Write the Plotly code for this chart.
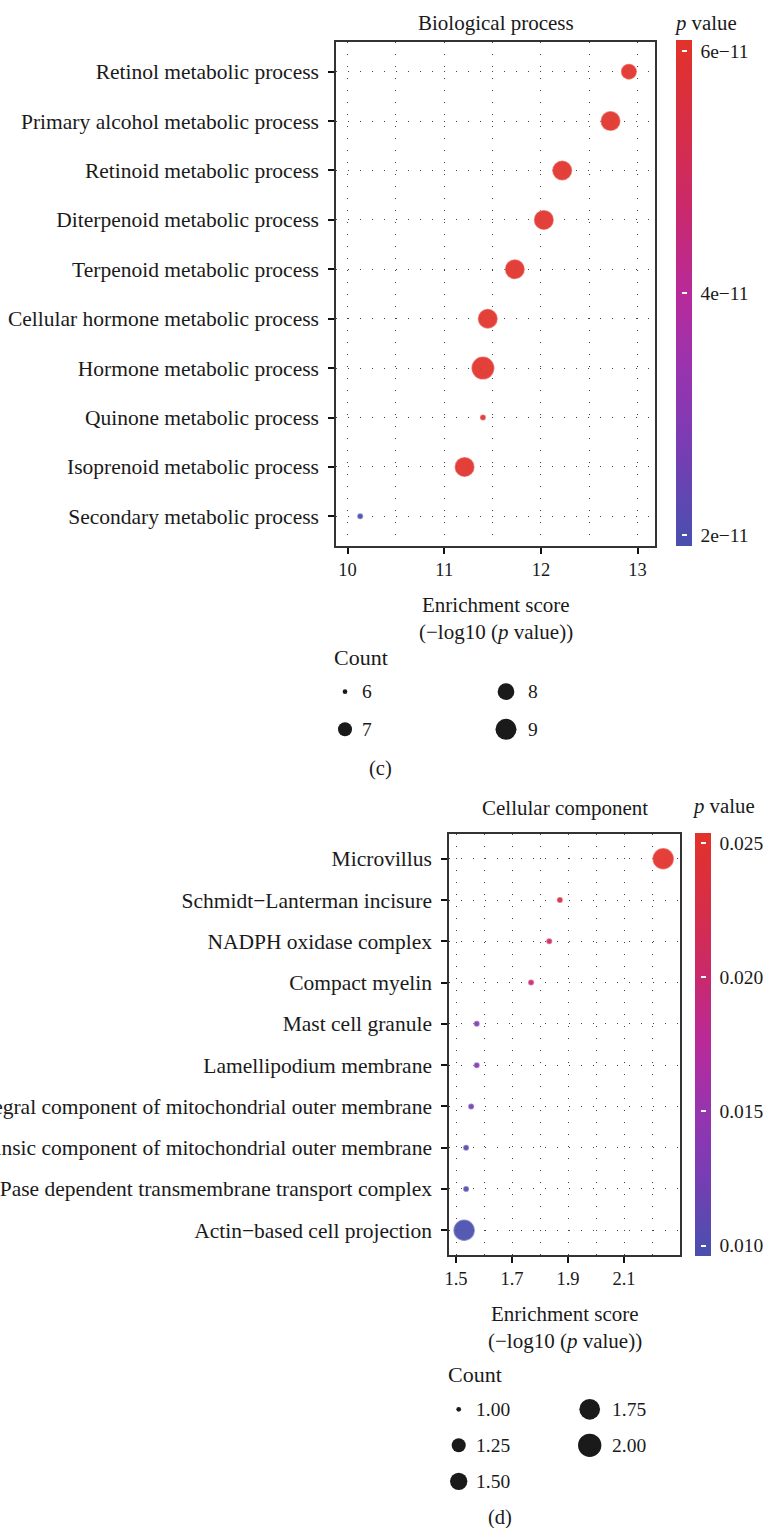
import plotly.graph_objects as go

# ---------------- data ----------------
bp_terms = [
    "Retinol metabolic process",
    "Primary alcohol metabolic process",
    "Retinoid metabolic process",
    "Diterpenoid metabolic process",
    "Terpenoid metabolic process",
    "Cellular hormone metabolic process",
    "Hormone metabolic process",
    "Quinone metabolic process",
    "Isoprenoid metabolic process",
    "Secondary metabolic process",
]
bp_score = [12.91, 12.72, 12.22, 12.03, 11.73, 11.45, 11.40, 11.40, 11.21, 10.13]
bp_count = [7, 8, 8, 8, 8, 8, 9, 6, 8, 6]
bp_pvalue = [6.05e-11, 6.05e-11, 6.05e-11, 6.05e-11, 6.05e-11,
             6.05e-11, 6.05e-11, 6.05e-11, 6.05e-11, 1.95e-11]
bp_xticks = [10, 11, 12, 13]
bp_cticks = [2e-11, 4e-11, 6e-11]
bp_cticktext = ["2e\u221211", "4e\u221211", "6e\u221211"]
bp_legend_counts = [6, 7, 8, 9]

cc_terms = [
    "Microvillus",
    "Schmidt\u2212Lanterman incisure",
    "NADPH oxidase complex",
    "Compact myelin",
    "Mast cell granule",
    "Lamellipodium membrane",
    "Integral component of mitochondrial outer membrane",
    "Intrinsic component of mitochondrial outer membrane",
    "ATPase dependent transmembrane transport complex",
    "Actin\u2212based cell projection",
]
cc_score = [2.240, 1.871, 1.833, 1.768, 1.574, 1.574, 1.554, 1.536, 1.536, 1.529]
cc_count = [2, 1, 1, 1, 1, 1, 1, 1, 1, 2]
cc_pvalue = [0.0253, 0.0225, 0.0212, 0.0200, 0.0135, 0.0135, 0.0122, 0.0106, 0.0103, 0.0097]
cc_xticks = [1.5, 1.7, 1.9, 2.1]
cc_cticks = [0.010, 0.015, 0.020, 0.025]
cc_cticktext = ["0.010", "0.015", "0.020", "0.025"]
cc_legend_counts = [1.00, 1.25, 1.50, 1.75, 2.00]
cc_legend_text = ["1.00", "1.25", "1.50", "1.75", "2.00"]

# ---------------- styles ----------------
W, H = 769, 1528
FONT = "Liberation Serif"
TXT = "#1a1a1a"
SCALE = [[0.0, "#4850AE"], [0.2, "#7A3CB4"], [0.35, "#9834AE"], [0.5, "#B82A9A"],
         [0.65, "#C8296F"], [0.8, "#D52D4C"], [1.0, "#E2322A"]]
CLEAR = [[0, "rgba(0,0,0,0)"], [1, "rgba(0,0,0,0)"]]
GRID_DASH = "1px,11px"

bp_size = {6: 6, 7: 16, 8: 20, 9: 23}
bp_leg_size = {6: 4.7, 7: 14, 8: 16.7, 9: 21}
cc_size = {1: 6, 2: 21.5}
cc_leg_size = [4.7, 14, 17.3, 20.7, 23.3]

LABEL_SIZE = 21.5
TITLE_SIZE = 21
TICK_SIZE = 18.5
PAD = -4  # annotation inner padding compensation


def fx(p):
    return p / W


def fy(p):
    return 1 - p / H


fig = go.Figure()

rim = dict(width=1.5, color="rgba(255,255,255,0.35)")

fig.add_trace(go.Scatter(
    x=bp_score, y=bp_terms, mode="markers", xaxis="x", yaxis="y", showlegend=False,
    marker=dict(size=[bp_size[c] for c in bp_count], color=bp_pvalue,
                coloraxis="coloraxis", opacity=0.93, line=rim)))
fig.add_trace(go.Scatter(
    x=cc_score, y=cc_terms, mode="markers", xaxis="x2", yaxis="y2", showlegend=False,
    marker=dict(size=[cc_size[c] for c in cc_count], color=cc_pvalue,
                coloraxis="coloraxis2", opacity=0.93, line=rim)))
# ghost traces: carry the white tick marks drawn inside each colour bar
for ca in ["coloraxis3", "coloraxis5"]:
    fig.add_trace(go.Scatter(
        x=bp_score, y=bp_terms, mode="markers", xaxis="x", yaxis="y", showlegend=False,
        hoverinfo="skip", marker=dict(color=bp_pvalue, coloraxis=ca, opacity=0)))
for ca in ["coloraxis4", "coloraxis6"]:
    fig.add_trace(go.Scatter(
        x=cc_score, y=cc_terms, mode="markers", xaxis="x2", yaxis="y2", showlegend=False,
        hoverinfo="skip", marker=dict(color=cc_pvalue, coloraxis=ca, opacity=0)))

# legend keys (pixel-space helper axes)
bp_leg_sym_x = [345, 506]
bp_leg_txt_x = [364, 530]
bp_leg_y0, bp_leg_dy, bp_nrow = 691.7, 37.6, 2
cc_leg_sym_x = [458.7, 589.7]
cc_leg_txt_x = [478, 614]
cc_leg_y0, cc_leg_dy, cc_nrow = 1409.3, 36.0, 3

lx, ly, ls = [], [], []
annotations = []
for i, c in enumerate(bp_legend_counts):
    col, row = i // bp_nrow, i % bp_nrow
    lx.append(bp_leg_sym_x[col]); ly.append(bp_leg_y0 + row * bp_leg_dy); ls.append(bp_leg_size[c])
    annotations.append(dict(text=str(c), x=fx(bp_leg_txt_x[col]), y=fy(bp_leg_y0 + row * bp_leg_dy),
                            xanchor="left", yanchor="middle", xshift=PAD, font=dict(size=19.5)))
for i, c in enumerate(cc_legend_counts):
    col, row = i // cc_nrow, i % cc_nrow
    lx.append(cc_leg_sym_x[col]); ly.append(cc_leg_y0 + row * cc_leg_dy); ls.append(cc_leg_size[i])
    annotations.append(dict(text=cc_legend_text[i], x=fx(cc_leg_txt_x[col]), y=fy(cc_leg_y0 + row * cc_leg_dy),
                            xanchor="left", yanchor="middle", xshift=PAD, font=dict(size=19.5)))
fig.add_trace(go.Scatter(x=lx, y=ly, mode="markers", xaxis="x3", yaxis="y3", showlegend=False,
                         hoverinfo="skip",
                         marker=dict(size=ls, color=TXT, opacity=1, line=dict(width=0))))


# text annotations
def note(text, x, y, size, xanchor="center"):
    annotations.append(dict(text=text, x=fx(x), y=fy(y), xanchor=xanchor, yanchor="middle",
                            xshift=PAD if xanchor == "left" else 0, font=dict(size=size)))


note("Biological process", 495.5, 23, TITLE_SIZE)
note("Enrichment score", 495.5, 605, TITLE_SIZE)
note("(\u2212log10 (<i>p</i> value))", 495.5, 632, TITLE_SIZE)
note("<i>p</i> value", 676, 23, 20.8, "left")
note("Count", 336, 657, 22, "left")
note("(c)", 380, 768, 20.5)

note("Cellular component", 564.5, 808, TITLE_SIZE)
note("Enrichment score", 564.5, 1314, TITLE_SIZE)
note("(\u2212log10 (<i>p</i> value))", 564.5, 1341, TITLE_SIZE)
note("<i>p</i> value", 694, 806, 20.8, "left")
note("Count", 450, 1374, 22, "left")
note("(d)", 500, 1517, 20.5)

for a in annotations:
    a.update(xref="paper", yref="paper", showarrow=False)
    a["font"].update(family=FONT, color=TXT)


def xaxis(domain, rng, ticks, minor_dtick, anchor):
    return dict(domain=domain, range=rng, anchor=anchor, automargin=False,
                tickmode="array", tickvals=ticks,
                ticks="outside", ticklen=6, tickwidth=2, tickcolor="#111",
                showline=True, mirror=True, linecolor="#333", linewidth=1.5,
                showgrid=True, gridcolor="#444", gridwidth=1.2, griddash=GRID_DASH,
                minor=dict(dtick=minor_dtick, tick0=ticks[0], showgrid=True, gridcolor="#444",
                           gridwidth=1.2, griddash=GRID_DASH, ticks=""),
                zeroline=False, tickfont=dict(family=FONT, size=TICK_SIZE, color=TXT))


def yaxis(domain, cats, anchor):
    return dict(domain=domain, type="category", categoryorder="array", categoryarray=cats,
                range=[len(cats) - 0.4, -0.6], anchor=anchor, automargin=False,
                ticks="outside", ticklen=6, tickwidth=2, tickcolor="#111",
                showline=True, mirror=True, linecolor="#333", linewidth=1.5,
                showgrid=True, gridcolor="#444", gridwidth=1.2, griddash=GRID_DASH,
                ticklabelstandoff=5,
                zeroline=False, tickfont=dict(family=FONT, size=LABEL_SIZE, color=TXT))


def cbar(xleft, ytop, ybot, tickvals, ticktext):
    # main bar; white outside ticks only act as label padding
    return dict(x=fx(xleft), xanchor="left", xpad=0, ypad=0, y=fy((ytop + ybot) / 2), yanchor="middle",
                len=ybot - ytop, lenmode="pixels", thickness=16, thicknessmode="pixels",
                outlinewidth=0, borderwidth=0, tickmode="array", tickvals=tickvals, ticktext=ticktext,
                ticks="outside", ticklen=5, tickwidth=2, tickcolor="white",
                tickfont=dict(family=FONT, size=19.5, color=TXT))


def ghostbar(xright, ytop, ybot, tickvals):
    return dict(x=fx(xright), xanchor="right", xpad=0, ypad=0, y=fy((ytop + ybot) / 2), yanchor="middle",
                len=ybot - ytop, lenmode="pixels", thickness=1, thicknessmode="pixels",
                outlinewidth=0, borderwidth=0, tickmode="array", tickvals=tickvals,
                showticklabels=False, ticks="inside", ticklen=5, tickwidth=2, tickcolor="white")


bp_crange = (1.91e-11, 6.09e-11)
cc_crange = (0.00962, 0.0254)

fig.update_layout(
    width=W, height=H, autosize=False,
    margin=dict(l=0, r=0, t=0, b=0, autoexpand=False),
    paper_bgcolor="white", plot_bgcolor="rgba(0,0,0,0)",
    font=dict(family=FONT, color=TXT),
    showlegend=False,
    xaxis=xaxis([fx(336), fx(655)], [9.88, 13.18], bp_xticks, 0.5, "y"),
    yaxis=yaxis([fy(546), fy(42)], bp_terms, "x"),
    xaxis2=xaxis([fx(449), fx(680)], [1.475, 2.30], cc_xticks, 0.1, "y2"),
    yaxis2=yaxis([fy(1255), fy(834)], cc_terms, "x2"),
    xaxis3=dict(domain=[0, 1], range=[0, W], visible=False, anchor="y3", fixedrange=True),
    yaxis3=dict(domain=[0, 1], range=[H, 0], visible=False, anchor="x3", fixedrange=True),
    coloraxis=dict(colorscale=SCALE, cmin=bp_crange[0], cmax=bp_crange[1],
                   colorbar=cbar(676, 40, 546, bp_cticks, bp_cticktext)),
    coloraxis2=dict(colorscale=SCALE, cmin=cc_crange[0], cmax=cc_crange[1],
                    colorbar=cbar(695, 832.7, 1255.7, cc_cticks, cc_cticktext)),
    coloraxis3=dict(colorscale=CLEAR, cmin=bp_crange[0], cmax=bp_crange[1],
                    colorbar=ghostbar(681, 40, 546, bp_cticks)),
    coloraxis4=dict(colorscale=CLEAR, cmin=cc_crange[0], cmax=cc_crange[1],
                    colorbar=ghostbar(700, 832.7, 1255.7, cc_cticks)),
    coloraxis5=dict(colorscale=CLEAR, cmin=bp_crange[0], cmax=bp_crange[1],
                    colorbar=ghostbar(692, 40, 546, bp_cticks)),
    coloraxis6=dict(colorscale=CLEAR, cmin=cc_crange[0], cmax=cc_crange[1],
                    colorbar=ghostbar(711, 832.7, 1255.7, cc_cticks)),
    annotations=annotations,
)

fig.write_html("out.html", config={"displayModeBar": False},
               post_script="document.body.style.margin='0';")
